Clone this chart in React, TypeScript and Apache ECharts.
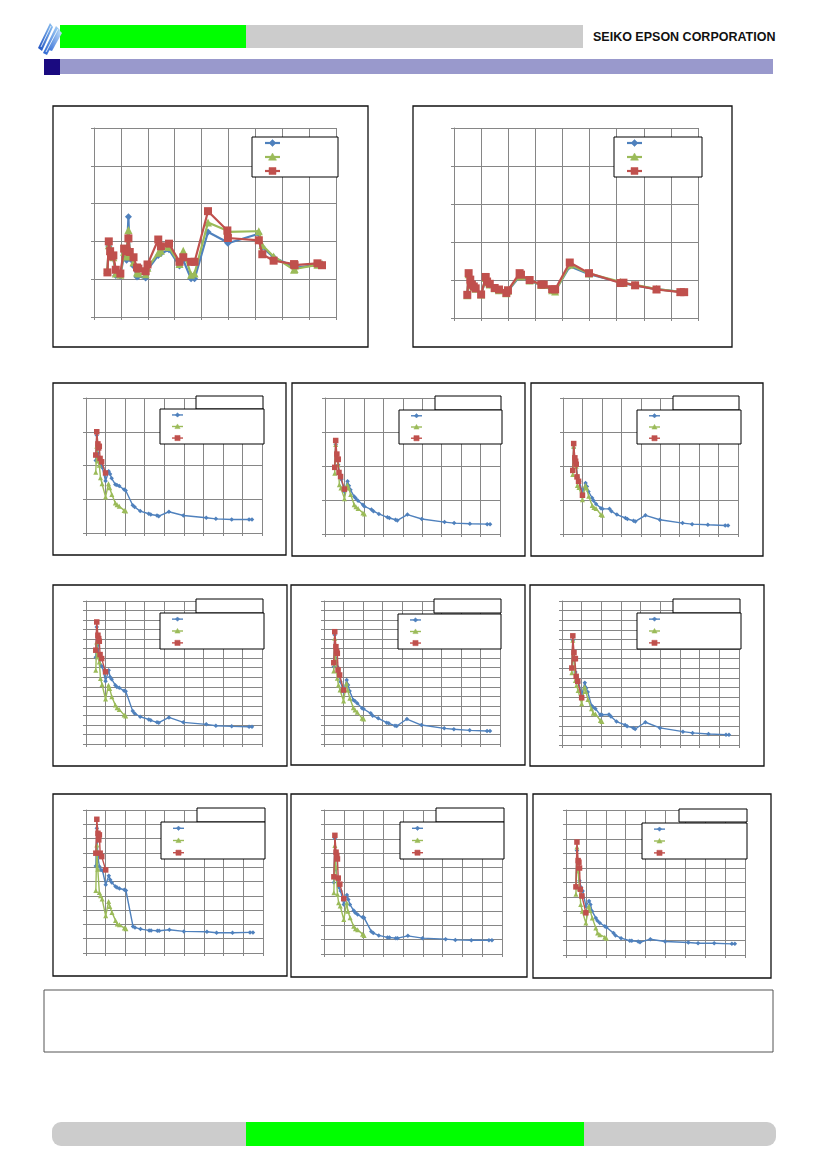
import React, { useEffect, useRef } from "react";
import * as echarts from "echarts";

// ---------- data ----------
const xAxisMax = 9;
const bigYMax = 5;
const row1YMax = 4;
const row2YMax = 15;
const row3YMax = 10;

const big1X = [0.5, 0.55, 0.6, 0.65, 0.72, 0.81, 0.98, 1.12, 1.21, 1.28, 1.33, 1.47, 1.6, 1.65, 1.92, 1.99, 2.39, 2.49, 2.79, 3.18, 3.32, 3.61, 3.74, 4.24, 4.96, 4.98, 6.13, 6.26, 6.68, 7.44, 7.46, 8.31, 8.48];
const big1Blue = [1.2, 1.87, 1.7, 1.6, 1.55, 1.1, 1.08, 1.65, 1.5, 2.65, 1.55, 1.35, 1.06, 1.08, 1.03, 1.25, 1.63, 1.68, 1.78, 1.35, 1.5, 1.01, 1.01, 2.25, 1.98, 1.95, 2.2, 1.85, 1.58, 1.32, 1.3, 1.38, 1.4];
const big1Green = [1.25, 1.9, 1.75, 1.62, 1.58, 1.15, 1.12, 1.72, 1.6, 2.3, 1.62, 1.45, 1.18, 1.15, 1.13, 1.3, 1.7, 1.75, 1.85, 1.4, 1.75, 1.12, 1.15, 2.5, 2.28, 2.25, 2.27, 1.9, 1.6, 1.25, 1.27, 1.38, 1.4];
const big1Red = [1.18, 2.0, 1.74, 1.6, 1.63, 1.25, 1.15, 1.81, 1.74, 2.08, 1.72, 1.58, 1.31, 1.28, 1.21, 1.39, 2.05, 1.87, 1.94, 1.46, 1.58, 1.46, 1.46, 2.8, 2.29, 2.09, 2.03, 1.66, 1.49, 1.4, 1.37, 1.42, 1.37];

const big2X = [0.49, 0.54, 0.6, 0.66, 0.73, 0.8, 1.0, 1.17, 1.22, 1.32, 1.5, 1.66, 1.93, 1.99, 2.42, 2.47, 2.79, 3.22, 3.31, 3.62, 3.73, 4.27, 4.98, 6.14, 6.25, 6.68, 7.47, 8.35, 8.49];
const big2Blue = [0.6, 1.12, 0.98, 0.85, 0.8, 0.76, 0.62, 1.02, 0.92, 0.87, 0.77, 0.72, 0.65, 0.71, 1.1, 1.08, 0.98, 0.86, 0.86, 0.72, 0.71, 1.36, 1.15, 0.94, 0.91, 0.86, 0.76, 0.69, 0.69];
const big2Green = [0.6, 1.15, 0.99, 0.86, 0.81, 0.77, 0.62, 1.05, 0.94, 0.88, 0.78, 0.73, 0.65, 0.72, 1.13, 1.1, 0.99, 0.87, 0.87, 0.73, 0.7, 1.4, 1.17, 0.95, 0.92, 0.87, 0.76, 0.69, 0.69];
const big2Red = [0.61, 1.18, 1.01, 0.88, 0.83, 0.78, 0.62, 1.08, 0.96, 0.9, 0.79, 0.75, 0.66, 0.73, 1.18, 1.14, 1.0, 0.88, 0.88, 0.76, 0.75, 1.46, 1.18, 0.92, 0.93, 0.86, 0.75, 0.68, 0.68];

const smallBlueX = [0.5, 0.55, 0.6, 0.68, 0.76, 0.84, 1.0, 1.16, 1.23, 1.31, 1.5, 1.58, 1.7, 1.95, 2.03, 2.39, 2.49, 2.77, 3.21, 3.31, 3.63, 3.72, 4.24, 4.98, 6.15, 6.64, 7.45, 8.34, 8.49];
const smallGreenX = [0.5, 0.55, 0.6, 0.68, 0.74, 0.82, 1.0, 1.15, 1.21, 1.32, 1.5, 1.59, 1.7, 1.95, 2.03];
const smallRedX = [0.5, 0.55, 0.61, 0.65, 0.68, 0.72, 0.8, 1.0];

const aBlue = [2.15, 2.9, 2.37, 2.23, 2.01, 1.93, 1.54, 1.83, 1.75, 1.62, 1.44, 1.42, 1.39, 1.29, 1.26, 0.82, 0.77, 0.65, 0.57, 0.55, 0.52, 0.5, 0.63, 0.52, 0.45, 0.42, 0.4, 0.4, 0.4];
const aGreen = [1.8, 2.57, 2.13, 2.01, 1.64, 1.46, 1.07, 1.46, 1.34, 1.14, 0.89, 0.84, 0.79, 0.67, 0.65];
const aRed = [2.31, 3.0, 2.64, 2.52, 2.57, 2.21, 2.11, 1.78];

const bBlue = [1.94, 2.63, 2.24, 2.04, 1.75, 1.6, 1.25, 1.55, 1.42, 1.3, 1.1, 1.05, 0.98, 0.86, 0.81, 0.72, 0.67, 0.59, 0.49, 0.47, 0.42, 0.4, 0.57, 0.44, 0.35, 0.32, 0.3, 0.29, 0.29];
const bGreen = [1.79, 2.63, 2.19, 2.04, 1.45, 1.35, 1.04, 1.45, 1.35, 1.16, 0.86, 0.8, 0.75, 0.62, 0.59];
const bRed = [1.96, 2.75, 2.35, 2.19, 2.2, 1.81, 1.69, 1.32];

const cBlue = [1.86, 2.53, 2.14, 1.99, 1.67, 1.55, 1.21, 1.5, 1.4, 1.25, 1.06, 0.98, 0.88, 0.76, 0.74, 0.74, 0.67, 0.57, 0.47, 0.44, 0.39, 0.37, 0.55, 0.42, 0.32, 0.29, 0.27, 0.25, 0.25];
const cGreen = [1.75, 2.58, 2.09, 1.99, 1.43, 1.37, 1.01, 1.43, 1.35, 1.11, 0.84, 0.78, 0.75, 0.57, 0.55];
const cRed = [1.87, 2.66, 2.24, 2.14, 2.05, 1.68, 1.55, 1.14];

const dBlue = [9.1, 12.28, 10.36, 8.96, 8.26, 8.09, 6.59, 7.74, 7.04, 6.8, 6.17, 5.99, 5.89, 5.58, 5.54, 3.45, 3.21, 2.86, 2.58, 2.48, 2.27, 2.23, 2.79, 2.27, 2.06, 1.92, 1.85, 1.81, 1.81];
const dGreen = [7.74, 10.71, 9.14, 8.61, 6.87, 6.24, 4.71, 6.17, 5.82, 4.95, 4.08, 3.8, 3.63, 3.03, 2.93];
const dRed = [9.84, 12.8, 11.41, 11.06, 10.78, 9.38, 8.96, 7.57];

const eBlue = [8.11, 11.43, 8.99, 8.11, 7.41, 6.54, 5.49, 6.71, 6.19, 5.56, 4.62, 4.51, 4.27, 3.74, 3.67, 3.22, 2.97, 2.69, 2.24, 2.17, 1.92, 1.89, 2.62, 1.99, 1.64, 1.54, 1.43, 1.36, 1.36];
const eGreen = [7.66, 11.08, 8.81, 6.89, 6.19, 5.66, 4.51, 6.36, 5.66, 4.79, 3.81, 3.57, 3.32, 2.69, 2.62];
const eRed = [8.53, 11.78, 10.21, 9.69, 9.51, 7.76, 7.24, 5.66];

const fBlue = [8.02, 10.91, 9.17, 7.6, 7.08, 6.56, 5.16, 6.49, 5.93, 5.51, 4.12, 3.94, 3.77, 3.14, 3.15, 3.17, 2.97, 2.44, 2.09, 1.95, 1.78, 1.67, 2.37, 1.78, 1.39, 1.26, 1.15, 1.08, 1.08];
const fGreen = [7.53, 10.91, 9.0, 6.73, 6.21, 5.68, 4.29, 6.03, 5.58, 4.74, 3.77, 3.31, 3.24, 2.55, 2.44];
const fRed = [8.02, 11.37, 9.63, 9.0, 9.0, 7.15, 6.63, 4.92];

const gBlue = [6.09, 8.72, 6.74, 6.05, 5.81, 5.77, 4.77, 5.4, 5.12, 4.93, 4.65, 4.58, 4.51, 4.42, 4.37, 1.86, 1.79, 1.67, 1.58, 1.58, 1.56, 1.56, 1.63, 1.51, 1.49, 1.42, 1.42, 1.44, 1.44];
const gGreen = [4.37, 7.56, 5.86, 4.23, 4.0, 3.77, 2.6, 3.6, 3.26, 2.84, 2.28, 2.02, 1.98, 1.74, 1.7];
const gRed = [6.98, 9.35, 8.37, 7.91, 8.26, 6.98, 6.74, 5.81];

const hBlue = [4.96, 8.01, 5.9, 5.2, 4.61, 4.38, 3.44, 4.1, 3.79, 3.44, 3.02, 2.86, 2.74, 2.55, 2.51, 1.57, 1.45, 1.29, 1.15, 1.15, 1.1, 1.1, 1.26, 1.1, 1.03, 0.98, 0.96, 0.96, 0.96];
const hGreen = [4.26, 7.54, 6.02, 4.15, 3.56, 3.33, 2.39, 3.56, 2.97, 2.51, 1.92, 1.76, 1.69, 1.38, 1.29];
const hRed = [5.36, 8.24, 7.07, 6.84, 6.6, 5.27, 4.85, 3.84];

const iBlue = [4.65, 7.21, 5.93, 5.12, 4.65, 4.42, 3.37, 3.72, 3.49, 3.02, 2.56, 2.37, 2.21, 1.98, 1.91, 1.51, 1.35, 1.16, 0.98, 0.98, 0.93, 0.88, 1.09, 0.93, 0.86, 0.81, 0.81, 0.77, 0.77];
const iGreen = [4.19, 7.44, 5.81, 4.6, 3.49, 3.02, 2.21, 3.37, 3.07, 2.56, 1.86, 1.51, 1.4, 1.23, 1.16];
const iRed = [4.7, 7.79, 6.51, 6.4, 6.0, 4.53, 4.07, 2.91];

// ---------- styles / layout ----------
const BLUE = "#4F81BD";
const GREEN = "#9BBB59";
const RED = "#C0504D";
const AXIS = "#868686";

type Panel = {
  frame: number[];
  plot: number[];
  legend: number[];
  title?: number[];
  yMax: number;
  big: boolean;
  xs: number[][];
  ys: number[][];
};

const panels: Panel[] = [
  { frame: [53, 106, 315, 241], plot: [94, 128, 242, 189], legend: [252, 137, 86, 40], yMax: bigYMax, big: true, xs: [big1X, big1X, big1X], ys: [big1Blue, big1Green, big1Red] },
  { frame: [413, 106, 319, 241], plot: [454, 128, 244, 190], legend: [614, 137, 88, 40], yMax: bigYMax, big: true, xs: [big2X, big2X, big2X], ys: [big2Blue, big2Green, big2Red] },
  { frame: [53, 383, 233, 172], plot: [86, 398, 176, 135], legend: [160, 409, 104, 35], title: [196, 396, 67, 13], yMax: row1YMax, big: false, xs: [smallBlueX, smallGreenX, smallRedX], ys: [aBlue, aGreen, aRed] },
  { frame: [292, 383, 233, 173], plot: [325, 398, 175, 136], legend: [399, 410, 103, 34], title: [435, 396, 66, 14], yMax: row1YMax, big: false, xs: [smallBlueX, smallGreenX, smallRedX], ys: [bBlue, bGreen, bRed] },
  { frame: [531, 383, 232, 173], plot: [563, 398, 175, 136], legend: [637, 410, 104, 34], title: [673, 396, 66, 14], yMax: row1YMax, big: false, xs: [smallBlueX, smallGreenX, smallRedX], ys: [cBlue, cGreen, cRed] },
  { frame: [53, 585, 234, 181], plot: [86, 601, 176, 143], legend: [160, 613, 104, 36], title: [196, 599, 67, 14], yMax: row2YMax, big: false, xs: [smallBlueX, smallGreenX, smallRedX], ys: [dBlue, dGreen, dRed] },
  { frame: [291, 585, 234, 180], plot: [324, 601, 176, 143], legend: [398, 614, 103, 35], title: [434, 599, 67, 14], yMax: row2YMax, big: false, xs: [smallBlueX, smallGreenX, smallRedX], ys: [eBlue, eGreen, eRed] },
  { frame: [530, 585, 234, 181], plot: [562, 601, 177, 144], legend: [637, 613, 104, 36], title: [673, 599, 67, 14], yMax: row2YMax, big: false, xs: [smallBlueX, smallGreenX, smallRedX], ys: [fBlue, fGreen, fRed] },
  { frame: [53, 794, 234, 182], plot: [86, 810, 177, 143], legend: [161, 822, 104, 37], title: [197, 808, 68, 14], yMax: row3YMax, big: false, xs: [smallBlueX, smallGreenX, smallRedX], ys: [gBlue, gGreen, gRed] },
  { frame: [291, 794, 236, 183], plot: [324, 810, 178, 144], legend: [400, 822, 104, 37], title: [436, 808, 68, 14], yMax: row3YMax, big: false, xs: [smallBlueX, smallGreenX, smallRedX], ys: [hBlue, hGreen, hRed] },
  { frame: [533, 794, 238, 184], plot: [566, 810, 179, 145], legend: [642, 823, 105, 36], title: [679, 809, 68, 13], yMax: row3YMax, big: false, xs: [smallBlueX, smallGreenX, smallRedX], ys: [iBlue, iGreen, iRed] },
];

const COLORS = [BLUE, GREEN, RED];
const SYMBOLS = ["diamond", "triangle", "rect"];

function zip(xs: number[], ys: number[]) {
  return ys.map((y, i) => [xs[i], y]);
}

function markerGraphic(kind: number, cx: number, cy: number, r: number, z: number): any {
  const style = { fill: COLORS[kind], stroke: COLORS[kind], lineWidth: 0.5 };
  if (kind === 0) {
    return { type: "polygon", z, shape: { points: [[cx, cy - r], [cx + r, cy], [cx, cy + r], [cx - r, cy]] }, style };
  }
  if (kind === 1) {
    return { type: "polygon", z, shape: { points: [[cx, cy - r], [cx + r, cy + r * 0.8], [cx - r, cy + r * 0.8]] }, style };
  }
  return { type: "rect", z, shape: { x: cx - r, y: cy - r, width: 2 * r, height: 2 * r }, style };
}

function buildOption(): any {
  const grid: any[] = [];
  const xAxis: any[] = [];
  const yAxis: any[] = [];
  const series: any[] = [];
  const graphic: any[] = [];

  // header
  graphic.push(
    { type: "rect", shape: { x: 60, y: 25, width: 186, height: 23 }, style: { fill: "#00FF00" } },
    { type: "rect", shape: { x: 246, y: 25, width: 337, height: 23 }, style: { fill: "#CCCCCC" } },
    { type: "rect", shape: { x: 44, y: 59, width: 729, height: 15 }, style: { fill: "#9999CC" } },
    { type: "rect", shape: { x: 44, y: 59, width: 16, height: 16 }, style: { fill: "#1A0A80" } },
    {
      type: "text",
      x: 593,
      y: 37,
      style: {
        text: "SEIKO EPSON CORPORATION",
        fontSize: 12.5,
        fontWeight: "bold",
        fontFamily: "Liberation Sans, Arial, sans-serif",
        fill: "#111111",
        verticalAlign: "middle",
        align: "left",
      },
    }
  );
  // logo stripes
  const logoGrad = (a: string, b: string) => ({
    type: "linear", x: 0, y: 1, x2: 1, y2: 0,
    colorStops: [{ offset: 0, color: a }, { offset: 1, color: b }],
  });
  graphic.push(
    { type: "polygon", shape: { points: [[38, 48], [42, 51], [53, 27], [50, 23]] }, style: { fill: logoGrad("#1D4FC0", "#8EC3F2") } },
    { type: "polygon", shape: { points: [[43, 53], [47, 55], [60, 30], [56, 26]] }, style: { fill: logoGrad("#2A63D0", "#A9D4F7") } },
    { type: "polygon", shape: { points: [[49, 50], [52, 51], [62, 33], [59, 30]] }, style: { fill: logoGrad("#3B73DA", "#C6E2FA") } },
    { type: "polyline", shape: { points: [[41, 47], [51, 26]] }, style: { stroke: "#FFFFFF", lineWidth: 1, opacity: 0.8 } },
    { type: "polyline", shape: { points: [[46, 52], [58, 29]] }, style: { stroke: "#FFFFFF", lineWidth: 1, opacity: 0.8 } }
  );

  panels.forEach((p, i) => {
    grid.push({ left: p.plot[0], top: p.plot[1], width: p.plot[2], height: p.plot[3], containLabel: false });
    const axisCommon = {
      type: "value",
      gridIndex: i,
      min: 0,
      interval: 1,
      axisLabel: { show: false },
      axisLine: { show: true, onZero: false, lineStyle: { color: AXIS, width: 1 } },
      axisTick: { show: true, inside: false, length: 3, lineStyle: { color: AXIS, width: 1 } },
      splitLine: { show: true, lineStyle: { color: AXIS, width: 1 } },
    };
    xAxis.push({ ...axisCommon, max: xAxisMax });
    yAxis.push({ ...axisCommon, max: p.yMax });

    for (let k = 0; k < 3; k++) {
      const sizes = p.big ? [7, 8, 8] : [4.5, 5, 5.5];
      series.push({
        type: "line",
        xAxisIndex: i,
        yAxisIndex: i,
        data: zip(p.xs[k], p.ys[k]),
        symbol: SYMBOLS[k],
        symbolSize: sizes[k],
        lineStyle: { color: COLORS[k], width: p.big ? 2.2 : 1.4 },
        itemStyle: { color: COLORS[k] },
        z: 2 + k,
        silent: true,
      });
    }

    // frame
    graphic.push({
      type: "rect",
      z: 1,
      shape: { x: p.frame[0], y: p.frame[1], width: p.frame[2], height: p.frame[3] },
      style: { fill: "none", stroke: "#111111", lineWidth: 1.3 },
    });

    // title box (empty)
    if (p.title) {
      graphic.push({
        type: "rect",
        z: 100,
        shape: { x: p.title[0], y: p.title[1], width: p.title[2], height: p.title[3] },
        style: { fill: "#FFFFFF", stroke: "#000000", lineWidth: 1 },
      });
    }
    // legend box
    const [lx, ly, lw, lh] = p.legend;
    graphic.push({
      type: "rect",
      z: 100,
      shape: { x: lx, y: ly, width: lw, height: lh },
      style: { fill: "#FFFFFF", stroke: "#000000", lineWidth: 1 },
    });
    const fracs = p.big ? [0.15, 0.5, 0.85] : [0.17, 0.5, 0.83];
    const x0 = lx + (p.big ? 13 : 12);
    const x1 = lx + (p.big ? 28 : 23);
    const mr = p.big ? [3.5, 4, 3.5] : [2.2, 2.6, 2.6];
    for (let k = 0; k < 3; k++) {
      const yy = ly + lh * fracs[k];
      graphic.push({
        type: "line",
        z: 101,
        shape: { x1: x0, y1: yy, x2: x1, y2: yy },
        style: { stroke: COLORS[k], lineWidth: p.big ? 2.2 : 1.4 },
      });
      graphic.push(markerGraphic(k, (x0 + x1) / 2, yy, mr[k], 102));
    }
  });

  // bottom text box
  graphic.push({
    type: "rect",
    shape: { x: 44, y: 990, width: 729, height: 62 },
    style: { fill: "none", stroke: "#555555", lineWidth: 1 },
  });
  // footer
  graphic.push(
    { type: "rect", shape: { x: 52, y: 1122, width: 724, height: 24, r: 9 }, style: { fill: "#CCCCCC" } },
    { type: "rect", shape: { x: 246, y: 1122, width: 338, height: 24 }, style: { fill: "#00FF00" } }
  );

  return {
    animation: false,
    backgroundColor: "#FFFFFF",
    grid,
    xAxis,
    yAxis,
    series,
    graphic: { elements: graphic },
  };
}

export default function App() {
  const ref = useRef<HTMLDivElement>(null);
  useEffect(() => {
    if (!ref.current) return;
    const chart = echarts.init(ref.current, undefined, { renderer: "svg" });
    chart.setOption(buildOption());
    return () => chart.dispose();
  }, []);
  return (
    <div
      ref={ref}
      style={{ position: "absolute", left: 0, top: 0, width: 827, height: 1169, background: "#FFFFFF" }}
    />
  );
}
